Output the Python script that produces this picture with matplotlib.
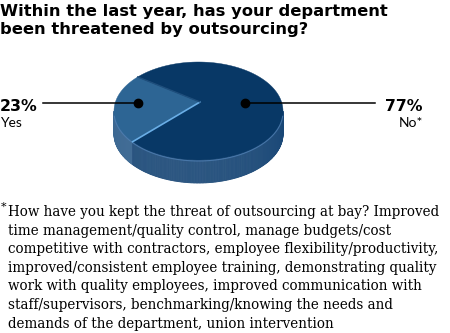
import numpy as np
import matplotlib.pyplot as plt
from matplotlib.patches import Polygon

# survey answers
labels = ['Yes', 'No*']
values = [23, 77]
pct_text = ['23%', '77%']

title_lines = ['Within the last year, has your department',
               'been threatened by outsourcing?']
note_lines = ['How have you kept the threat of outsourcing at bay? Improved',
              'time management/quality control, manage budgets/cost',
              'competitive with contractors, employee flexibility/productivity,',
              'improved/consistent employee training, demonstrating quality',
              'work with quality employees, improved communication with',
              'staff/supervisors, benchmarking/knowing the needs and',
              'demands of the department, union intervention']

top_cols = ['#2d6594', '#083866']
side_cols = ['#2a5a88', '#0f3f70']

W, H = 450, 333
fig = plt.figure(figsize=(4.5, 3.33), dpi=100)
ax = fig.add_axes([0, 0, 1, 1])
ax.set_xlim(0, W)
ax.set_ylim(H, 0)
ax.axis('off')

# pseudo 3d pie, drawn in pixel space
cx, cy, a, b, depth = 198.5, 111, 84.5, 49, 23
tip = np.array([200, 102])
start = 136

def ell(t, dy=0):
    t = np.radians(t)
    return np.column_stack([cx + a*np.cos(t), cy - b*np.sin(t) + dy])

bounds = start + 360*np.cumsum([0] + values)/sum(values)

def mix(c, f):
    c = np.array(plt.matplotlib.colors.to_rgb(c))
    return tuple(c + (1 - c)*f)

# side walls (front half only)
for i in range(len(values)):
    t0, t1 = bounds[i], bounds[i+1]
    for k in (0, 360):
        lo, hi = max(t0, 180 + k), min(t1, 360 + k)
        if hi <= lo:
            continue
        ts = np.linspace(lo, hi, int(hi - lo) + 2)
        for s0, s1 in zip(ts[:-1], ts[1:]):
            f = 0.12*(1 + np.cos(np.radians(s0 - 250)))/2
            seg = np.linspace(s0, s1, 3)
            pts = np.vstack([ell(seg), ell(seg[::-1], depth)])
            c = mix(side_cols[i], f)
            ax.add_patch(Polygon(pts, closed=True, fc=c, ec=c, lw=0.6))

# top faces
for i in range(len(values)):
    ts = np.linspace(bounds[i], bounds[i+1], 200)
    pts = np.vstack([tip, ell(ts)])
    ax.add_patch(Polygon(pts, closed=True, fc=top_cols[i], ec=top_cols[i], lw=0.3))

# rim highlight along front edge
rim = ell(np.linspace(185, 355, 200), 1)
ax.plot(rim[:, 0], rim[:, 1], color='#4f7fb3', lw=0.8, alpha=0.8)

# slice edges
p = ell([bounds[1]])[0]
ax.plot([tip[0], p[0]], [tip[1], p[1]], color='#6aaee6', lw=1.2)
p = ell([bounds[0]])[0]
ax.plot([tip[0], p[0]], [tip[1], p[1]], color='#1e4e7c', lw=1.0)

# callouts
ax.plot([43, 138], [103, 103], color='black', lw=1.1)
ax.plot([138], [103], 'o', color='black', ms=6)
ax.plot([245, 375], [103, 103], color='black', lw=1.1)
ax.plot([245], [103], 'o', color='black', ms=6)

ax.text(0, 111, pct_text[0], fontsize=11.3, fontweight='bold', family='DejaVu Sans',
        ha='left', va='baseline')
ax.text(0, 127, labels[0], fontsize=10, family='Lato', ha='left', va='baseline')
ax.text(423, 111, pct_text[1], fontsize=11.3, fontweight='bold', family='DejaVu Sans',
        ha='right', va='baseline')
ax.text(423, 127, labels[1], fontsize=10, family='Lato', ha='right', va='baseline')

for j, line in enumerate(title_lines):
    ax.text(0, 16 + 18*j, line, fontsize=11.8, fontweight='bold', family='DejaVu Sans',
            ha='left', va='baseline')

ax.text(1, 210, '*', fontsize=8, family='DejaVu Serif', ha='left', va='baseline')
for j, line in enumerate(note_lines):
    ax.text(8, 216 + 18.6*j, line, fontsize=9.75, family='DejaVu Serif',
            ha='left', va='baseline')

fig.savefig('out.png', dpi=100)
